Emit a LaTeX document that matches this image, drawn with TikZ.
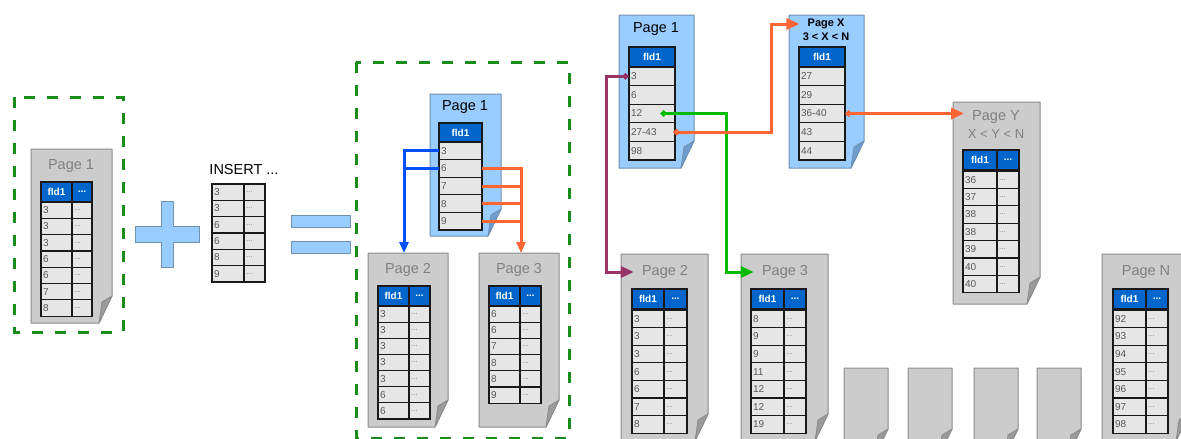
\documentclass[tikz,border=0pt]{standalone}
\usepackage{fontspec}
\setmainfont{Liberation Sans}
\usetikzlibrary{arrows.meta,fit}

\definecolor{grishoja}{HTML}{CCCCCC}
\definecolor{grisborde}{HTML}{8C8C8C}
\definecolor{grispliegue}{HTML}{9A9A9A}
\definecolor{azulhoja}{HTML}{99CCFF}
\definecolor{azulborde}{HTML}{7090B0}
\definecolor{azulpliegue}{HTML}{6E9ED0}
\definecolor{cabecera}{HTML}{0066CC}
\definecolor{celdafondo}{HTML}{E6E6E6}
\definecolor{verdemarco}{HTML}{1A8C1A}
\definecolor{naranja}{HTML}{FF6633}
\definecolor{azulflecha}{HTML}{0050FF}
\definecolor{verdeflecha}{HTML}{00BB00}
\definecolor{morado}{HTML}{993366}

\newcommand{\hoja}[6]{%
  \draw[hoja#2] (#3,#4) -- (#5,#4) -- (#5,#6-27) -- (#5-13,#6) -- (#3,#6) -- cycle;
  \draw[pliegue#2] (#5,#6-27) -- (#5-13,#6) -- (#5-10,#6-21) -- cycle;
  \node[marco, fit={(#3,#4) (#5,#6)}] (#1) {};
}
\newcommand{\cabeza}[5]{%
  \node[encabezado, minimum width=#4pt, anchor=north west] (#1-h) at (#2,#3) {fld1};
  \ifnum#5>0
    \node[encabezado, minimum width=#5pt, anchor=north west] (#1-hb) at ({#2+#4},#3) {...};
  \fi
}
\newcommand{\tabla}[7]{%
  \pgfmathsetmacro\anchoA{#4-4}
  \pgfmathsetmacro\anchoB{#5-4}
  \foreach \v [count=\i] in {#7} {
    \node[celda, text width=\anchoA pt, minimum height=#6pt, anchor=north west]
      (#1-\i) at ({#2},{#3+(\i-1)*#6}) {\v};
    \ifnum#5>0
      \node[celda, puntos, text width=\anchoB pt, minimum height=#6pt, anchor=north west]
        (#1-\i-b) at ({#2+#4},{#3+(\i-1)*#6}) {...};
    \fi
  }
}

\begin{document}
\begin{tikzpicture}[x=1pt, y=-1pt,
  hojagris/.style={fill=grishoja, draw=grisborde, line width=1pt, line join=round},
  hojaazul/.style={fill=azulhoja, draw=azulborde, line width=1pt, line join=round},
  plieguegris/.style={fill=grispliegue, draw=grisborde, line width=0.8pt, line join=round},
  pliegueazul/.style={fill=azulpliegue, draw=azulborde, line width=0.8pt, line join=round},
  marco/.style={inner sep=0pt, outer sep=0pt, draw=none},
  celda/.style={draw=black!90, fill=celdafondo, line width=1.2pt, outer sep=0pt,
                inner xsep=2pt, inner ysep=0pt, align=left,
                font=\fontsize{10}{11}\selectfont, text=black!65},
  puntos/.style={font=\fontsize{8}{9}\selectfont, text=black!50},
  encabezado/.style={draw=black!90, fill=cabecera, line width=1.2pt, outer sep=0pt,
                     inner sep=0pt, minimum height=20pt, text=white,
                     font=\bfseries\fontsize{10}{11}\selectfont},
  titulo/.style={inner sep=2pt, font=\fontsize{14.5}{16}\selectfont},
  titulogris/.style={titulo, text=black!50},
  subtitulo/.style={inner sep=2pt, font=\bfseries\fontsize{11}{12}\selectfont},
  signo/.style={fill=azulhoja, draw=azulborde, line width=0.8pt},
  grupo/.style={draw=verdemarco, line width=3pt, dash pattern=on 11pt off 12pt},
  linea/.style={line width=3pt},
  flecha/.style={line width=3pt, -{Triangle[length=11pt,width=9pt]}},
  enlace/.style={line width=3pt, shorten >=6pt,
                 {Diamond[length=7pt,width=7pt]}-{Triangle[length=13pt,width=11pt]}}]
  \useasboundingbox (0,0) rectangle (1181,439);
  \fill[white] (0,0) rectangle (1181,439);

  \draw[grupo] (14,97) rectangle (123,332);
  \draw[grupo] (356,62) rectangle (569,438);

  \hoja{p1l}{gris}{31}{149}{112}{323}
  \node[titulogris] (p1l-t) at (71,166) {Page 1};
  \cabeza{t1l}{41}{182}{31}{20}
  \tabla{t1l}{41}{202}{31}{20}{16.3}{3,3,3,6,6,7,8}

  \draw[signo] (161,201) -- (173,201) -- (173,226) -- (199,226) -- (199,242) -- (173,242)
    -- (173,267) -- (161,267) -- (161,242) -- (135,242) -- (135,226) -- (161,226) -- cycle;

  \node[titulo] (ins) at (244,170) {INSERT ...};
  \tabla{tins}{212}{184}{32}{21}{16.33}{3,3,6,6,8,9}

  \draw[signo] (291,215) rectangle (350,227);
  \draw[signo] (291,241) rectangle (350,253);

  \hoja{p1m}{azul}{430}{94}{501}{236}
  \node[titulo] (p1m-t) at (465,107) {Page 1};
  \cabeza{t1m}{439}{123}{43}{0}
  \tabla{t1m}{439}{142}{43}{0}{17.6}{3,6,7,8,9}

  \hoja{p2m}{gris}{368}{253}{448}{427}
  \node[titulogris] (p2m-t) at (408,270) {Page 2};
  \cabeza{t2m}{378}{286}{31}{21}
  \tabla{t2m}{378}{306}{31}{21}{16.14}{3,3,3,3,3,6,6}

  \hoja{p3m}{gris}{479}{253}{559}{427}
  \node[titulogris] (p3m-t) at (519,270) {Page 3};
  \cabeza{t3m}{489}{286}{31}{21}
  \tabla{t3m}{489}{306}{31}{21}{16.2}{6,6,7,8,8,9}

  \hoja{p1r}{azul}{619}{15}{694}{168}
  \node[titulo] (p1r-t) at (656,29) {Page 1};
  \cabeza{t1r}{629}{47}{46}{0}
  \tabla{t1r}{629}{67}{46}{0}{18.6}{3,6,12,27-43,98}

  \hoja{pxr}{azul}{789}{15}{864}{168}
  \node[subtitulo] (pxt) at (826,24) {Page X};
  \node[subtitulo] (pxt-b) at (826,37) {3 < X < N};
  \cabeza{txr}{799}{47}{46}{0}
  \tabla{txr}{799}{67}{46}{0}{18.6}{27,29,36-40,43,44}

  \hoja{pyr}{gris}{953}{102}{1040}{304}
  \node[titulogris] (pyt) at (996,117) {Page Y};
  \node[titulogris, font=\fontsize{13}{14}\selectfont] (pyt-b) at (996,134) {X < Y < N};
  \cabeza{tyr}{963}{150}{34}{22}
  \tabla{tyr}{963}{171}{34}{22}{17.4}{36,37,38,38,39,40,40}

  \hoja{p2r}{gris}{621}{254}{708}{441}
  \node[titulogris] (p2r-t) at (665,272) {Page 2};
  \cabeza{t2r}{632}{289}{32}{23}
  \tabla{t2r}{632}{310}{32}{23}{17.6}{3,3,3,6,6,7,8}

  \hoja{p3r}{gris}{741}{254}{828}{441}
  \node[titulogris] (p3r-t) at (785,272) {Page 3};
  \cabeza{t3r}{751}{289}{33}{22}
  \tabla{t3r}{751}{310}{33}{22}{17.6}{8,9,9,11,12,12,19}

  \foreach \x in {844,908,974,1037} {\hoja{pv\x}{gris}{\x}{368}{\x+44}{456}}

  \hoja{pnr}{gris}{1102}{254}{1189}{441}
  \node[titulogris] (pnt) at (1146,272) {Page N};
  \cabeza{tnr}{1113}{289}{33}{22}
  \tabla{tnr}{1113}{310}{33}{22}{17.6}{92,93,94,95,96,97,98}

  \draw[flecha, azulflecha] (t1m-1.west) -| ([xshift=-4pt]p2m.north);
  \draw[linea, azulflecha] (t1m-2.west) -- ++(-35,0);
  \draw[flecha, naranja] (t1m-2.east) -| ([xshift=2pt]p3m.north);
  \foreach \i in {3,4,5} \draw[linea, naranja] (t1m-\i.east) -- ++(39,0);

  \draw[enlace, morado] (t1r-1.west) -- ++(-23,0) |- (p2r-t.west);
  \draw[enlace, verdeflecha] ([xshift=8pt]t1r-3.center) -- ++(66,0) |- (p3r-t.west);
  \draw[enlace, naranja] ([xshift=-2pt]t1r-4.east) -- ++(98,0) |- (pxt.west);
  \draw[enlace, naranja] (txr-3.east) -- (txr-3.east -| pyt.west);
\end{tikzpicture}
\end{document}
